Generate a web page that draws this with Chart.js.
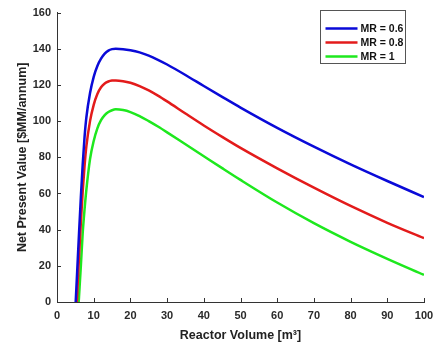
<!DOCTYPE html>
<html><head><meta charset="utf-8">
<script src="https://cdn.jsdelivr.net/npm/chart.js@4/dist/chart.umd.min.js"></script>
<style>html,body{margin:0;padding:0;background:#fff;}#wrap{width:433px;height:344px;}</style>
</head><body><div id="wrap"><canvas id="c" width="433" height="344"></canvas></div>
<script>
const volumes = [5, 5.5, 6, 6.5, 7, 7.5, 8, 9, 10, 11, 12, 13, 14, 15, 16, 18, 20, 22.5, 25, 27.5, 30, 35, 40, 45, 50, 60, 70, 80, 90, 100];
const npvMR06 = [-4, 17, 38, 58, 76, 91, 102, 115.5, 124.5, 130.5, 134.5, 137.3, 139, 139.8, 140, 139.8, 139.2, 138, 136.2, 133.9, 131.3, 125.5, 119.4, 113.4, 107.5, 96.3, 85.9, 76.1, 66.9, 58];
const npvMR08 = [-18, 4, 25, 44, 61, 75, 86, 100, 109, 115, 118.7, 120.8, 121.9, 122.4, 122.5, 122.1, 121.2, 119.4, 117, 114.1, 110.9, 104.2, 97.6, 91.3, 85.2, 73.9, 63.2, 53.1, 43.8, 35.3];
const npvMR10 = [-32, -14, 3, 20, 38, 51, 62, 79, 89, 96, 100.5, 103.3, 105, 106, 106.5, 106.1, 105, 102.8, 100, 97, 93.8, 87.2, 80.6, 74, 67.5, 55, 43.6, 33.3, 23.9, 15];
const seriesLabels = ['MR = 0.6', 'MR = 0.8', 'MR = 1'];
const seriesColors = ['#0a0ad8', '#e31b1b', '#1ee81e'];
const xTickValues = [0, 10, 20, 30, 40, 50, 60, 70, 80, 90, 100];
const yTickValues = [0, 20, 40, 60, 80, 100, 120, 140, 160];

const FONT = "'Liberation Sans', Arial, Helvetica, sans-serif";
const series = [npvMR06, npvMR08, npvMR10];
const datasets = series.map((vals, i) => ({
  label: seriesLabels[i],
  data: volumes.map((v, j) => ({x: v, y: vals[j]})),
  borderColor: seriesColors[i],
  backgroundColor: seriesColors[i],
  borderWidth: 2.5,
  pointRadius: 0,
  fill: false,
  cubicInterpolationMode: 'monotone'
}));

const inwardTicks = {
  id: 'inwardTicks',
  afterDraw(chart) {
    const ctx = chart.ctx, a = chart.chartArea;
    const xs = chart.scales.x, ys = chart.scales.y;
    ctx.save();
    ctx.strokeStyle = '#333';
    ctx.lineWidth = 1;
    ctx.beginPath();
    xTickValues.forEach(v => {
      const px = Math.round(xs.getPixelForValue(v)) + 0.5;
      ctx.moveTo(px, a.bottom); ctx.lineTo(px, a.bottom - 4);
    });
    yTickValues.forEach(v => {
      const py = Math.round(ys.getPixelForValue(v)) + 0.5;
      ctx.moveTo(a.left, py); ctx.lineTo(a.left + 4, py);
    });
    ctx.stroke();
    ctx.restore();
  }
};

const legendBox = {
  id: 'legendBox',
  afterDraw(chart) {
    const ctx = chart.ctx, a = chart.chartArea;
    const x0 = Math.round(a.right - 104) + 0.5, y0 = Math.round(a.top - 3) + 0.5, w = 85, h = 53;
    ctx.save();
    ctx.fillStyle = '#fff';
    ctx.fillRect(x0, y0, w, h);
    ctx.strokeStyle = '#555';
    ctx.lineWidth = 1;
    ctx.strokeRect(x0, y0, w, h);
    chart.data.datasets.forEach((ds, i) => {
      const yy = y0 + 18 + i * 14;
      ctx.strokeStyle = ds.borderColor;
      ctx.lineWidth = 2.5;
      ctx.beginPath();
      ctx.moveTo(x0 + 5, yy); ctx.lineTo(x0 + 37, yy);
      ctx.stroke();
      ctx.fillStyle = '#111';
      ctx.font = 'bold 10.5px ' + FONT;
      ctx.textBaseline = 'middle';
      ctx.textAlign = 'left';
      ctx.fillText(ds.label, x0 + 40, yy + 0.5);
    });
    ctx.restore();
  }
};

new Chart(document.getElementById('c'), {
  type: 'line',
  data: { datasets },
  options: {
    responsive: false,
    devicePixelRatio: 1,
    animation: false,
    layout: { padding: { top: 12, right: 9, left: 0, bottom: 0 } },
    plugins: { legend: { display: false }, tooltip: { enabled: false } },
    scales: {
      x: {
        type: 'linear', min: 0, max: 100,
        afterFit: s => { s.height = 42; s.paddingRight = 0; s.paddingLeft = 0; },
        afterBuildTicks: s => { s.ticks = xTickValues.map(v => ({value: v})); },
        grid: { display: false, drawTicks: false },
        border: { display: true, color: '#333', width: 1 },
        ticks: { padding: 7, color: '#2a2a2a', font: { family: FONT, size: 11, weight: 'bold' } },
        title: { display: true, text: 'Reactor Volume [m³]', color: '#222', padding: { top: 0, bottom: 1 }, font: { family: FONT, size: 12.5, weight: 'bold' } }
      },
      y: {
        type: 'linear', min: 0, max: 160,
        afterFit: s => { s.width = 57; },
        afterBuildTicks: s => { s.ticks = yTickValues.map(v => ({value: v})); },
        grid: { display: false, drawTicks: false },
        border: { display: true, color: '#333', width: 1 },
        ticks: { padding: 6, color: '#2a2a2a', font: { family: FONT, size: 11, weight: 'bold' } },
        title: { display: true, text: 'Net Present Value [$MM/annum]', color: '#222', padding: { top: 15, bottom: 0 }, font: { family: FONT, size: 12.5, weight: 'bold' } }
      }
    }
  },
  plugins: [inwardTicks, legendBox]
});
</script></body></html>
